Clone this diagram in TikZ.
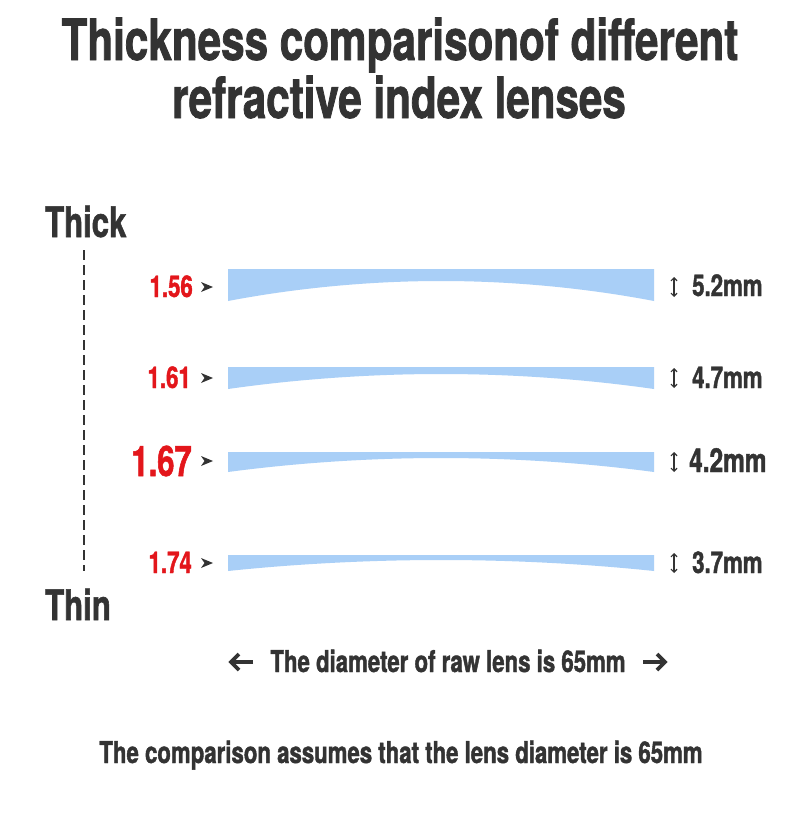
\documentclass[tikz,border=0pt]{standalone}
\usepackage{fontspec}
\setmainfont{TeX Gyre Heros}[FakeStretch=0.74, BoldFeatures={FakeBold=1.3}]
\usetikzlibrary{arrows.meta}
\definecolor{ink}{HTML}{333333}
\definecolor{redlbl}{HTML}{E3161B}
\definecolor{lensblue}{HTML}{A9CFF7}
\tikzset{
  txt/.style={inner sep=0pt, text=ink, font=\bfseries},
  num/.style={inner sep=0pt, text=redlbl, font=\bfseries\fontsize{30}{32}\selectfont, anchor=base east},
  bignum/.style={inner sep=0pt, text=redlbl, font=\bfseries\fontsize{42}{44}\selectfont, anchor=base east},
  mmlbl/.style={inner sep=0pt, text=ink, font=\bfseries\fontsize{30}{32}\selectfont, anchor=base west},
  lensfill/.style={fill=lensblue},
  pointer/.style={fill=ink},
  thick arrow/.style={line width=1.2pt, draw=ink, {Straight Barb[length=3pt,width=6pt]}-{Straight Barb[length=3pt,width=6pt]}},
  dia line/.style={line width=3.6pt, draw=ink, line join=miter},
}
\newcommand\lensshape[3]{%
  \fill[lensfill] (228,#1) -- (654,#1) -- (654,#2) parabola bend (441,#3) (228,#2) -- cycle;}
\newcommand\pointerat[1]{%
  \fill[pointer] (201,#1-5) -- (213,#1) -- (201,#1+5) -- (204.5,#1) -- cycle;}
\begin{document}
\begin{tikzpicture}[x=1pt,y=-1pt]
\useasboundingbox[fill=white] (0,0) rectangle (800,835);

% title
\node[txt, font=\bfseries\fontsize{57}{60}\selectfont, anchor=base] (t1) at (400,60) {Thickness comparisonof different};
\node[txt, font=\bfseries\fontsize{57}{60}\selectfont, anchor=base] (t2) at (399,118) {refractive index lenses};

% thick / thin scale
\node[txt, font=\bfseries\fontsize{42}{44}\selectfont, anchor=base west] (thick) at (45,237) {Thick};
\node[txt, font=\bfseries\fontsize{42}{44}\selectfont, anchor=base west] (thin) at (45,620) {Thin};
\coordinate (dtop) at (84,250);
\coordinate (dbot) at (84,571);
\draw[ink, line width=2.6pt, dash pattern=on 10pt off 5pt] (dtop) -- (dbot);

% lenses
\lensshape{269}{301}{281}
\lensshape{367}{389}{374}
\lensshape{452}{472}{458}
\lensshape{555}{571}{560}

% index labels
\node[num] (n1) at (193,297) {1.56};
\node[num] (n2) at (191,388) {1.61};
\node[bignum] (n3) at (192,476) {1.67};
\node[num] (n4) at (192,573) {1.74};
\pointerat{287}
\pointerat{378}
\pointerat{461}
\pointerat{563}

% thickness arrows
\coordinate (a1t) at (674,277); \coordinate (a1b) at (674,297);
\coordinate (a2t) at (674,368); \coordinate (a2b) at (674,388);
\coordinate (a3t) at (674,452); \coordinate (a3b) at (674,472);
\coordinate (a4t) at (674,553); \coordinate (a4b) at (674,573);
\draw[thick arrow] (a1t) -- (a1b);
\draw[thick arrow] (a2t) -- (a2b);
\draw[thick arrow] (a3t) -- (a3b);
\draw[thick arrow] (a4t) -- (a4b);

% thickness labels
\node[mmlbl] (m1) at (692,296) {5.2mm};
\node[mmlbl] (m2) at (692,388) {4.7mm};
\node[mmlbl, font=\bfseries\fontsize{33}{35}\selectfont] (m3) at (689,472) {4.2mm};
\node[mmlbl] (m4) at (692,573) {3.7mm};

% diameter
\node[txt, font=\bfseries\fontsize{30}{32}\selectfont, anchor=base] (dia) at (448,672) {The diameter of raw lens is 65mm};
\coordinate (la) at (253,662); \coordinate (lb) at (231,662);
\coordinate (ra) at (643,662); \coordinate (rb) at (665,662);
\draw[dia line] (la) -- (lb);
\draw[dia line] ([shift={(8,-8)}]lb) -- (lb) -- ([shift={(8,8)}]lb);
\draw[dia line] (ra) -- (rb);
\draw[dia line] ([shift={(-8,-8)}]rb) -- (rb) -- ([shift={(-8,8)}]rb);

% footer
\node[txt, font=\bfseries\fontsize{30}{32}\selectfont, anchor=base] (foot) at (401,763) {The comparison assumes that the lens diameter is 65mm};
\end{tikzpicture}
\end{document}
